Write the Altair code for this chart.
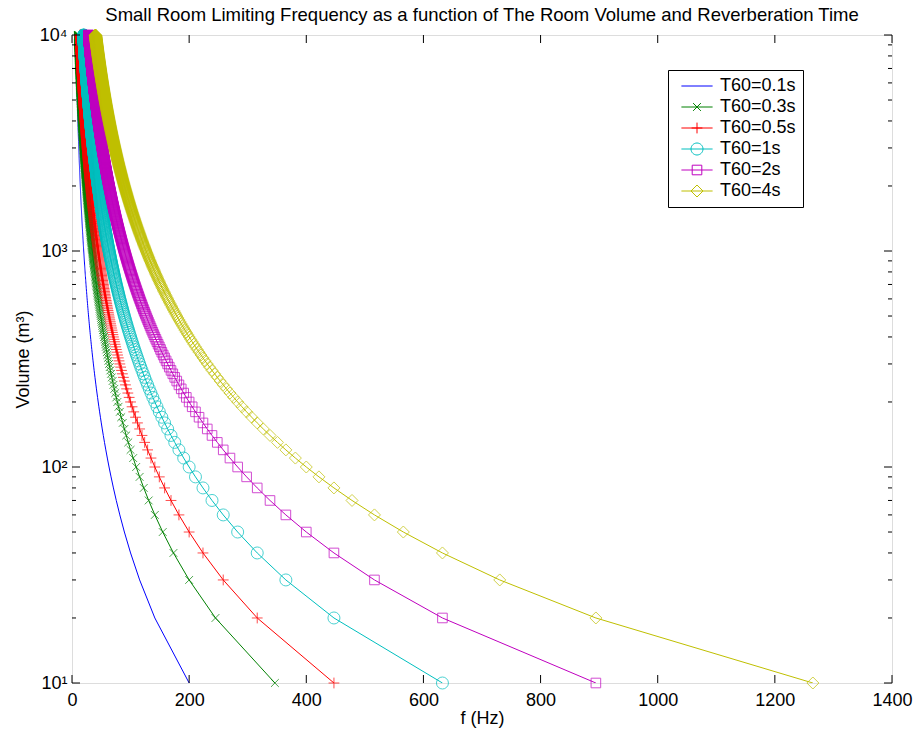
import altair as alt
import pandas as pd

# ---- data ----
series_names = ["T60=0.1s", "T60=0.3s", "T60=0.5s", "T60=1s", "T60=2s", "T60=4s"]
t60_values = [0.1, 0.3, 0.5, 1.0, 2.0, 4.0]
series_colors = ["#0000ff", "#008000", "#ff0000", "#00bfbf", "#bf00bf", "#bfbf00"]
volumes = list(range(10, 10001, 10))          # room volume grid, m^3
x_ticks = [0, 200, 400, 600, 800, 1000, 1200, 1400]
y_major = [10, 100, 1000, 10000]
y_minor = [20, 30, 40, 50, 60, 70, 80, 90,
           200, 300, 400, 500, 600, 700, 800, 900,
           2000, 3000, 4000, 5000, 6000, 7000, 8000, 9000]

# Schroeder (small-room limiting) frequency: f = 2000 * sqrt(T60 / V)
rows = []
for name, t in zip(series_names, t60_values):
    for v in volumes:
        rows.append({"series": name, "V": v, "f": 2000.0 * (t / v) ** 0.5})
df = pd.DataFrame(rows)

# marker glyphs (unit square paths), None = no marker
marker_paths = [None,
                "M-0.65,-0.65L0.65,0.65M-0.65,0.65L0.65,-0.65",
                "M-0.9,0L0.9,0M0,-0.9L0,0.9",
                "circle",
                "M-0.8,-0.8L0.8,-0.8L0.8,0.8L-0.8,0.8Z",
                "M0,-1L1,0L0,1L-1,0Z"]
legend_line = "M-2.6,0L2.6,0"
legend_paths = [legend_line]
for p in marker_paths[1:]:
    if p == "circle":
        p = "M1,0A1,1,0,1,1,-1,0A1,1,0,1,1,1,0Z"
    legend_paths.append(legend_line + p)

FONT = "Liberation Sans"
FS = 18
W, H = 820, 648

xscale = alt.Scale(domain=[0, 1400], nice=False, zero=False)
yscale = alt.Scale(type="log", domain=[10, 10000], nice=False)

xaxis = alt.Axis(values=x_ticks, ticks=False, domain=False, grid=False, format="d",
                 labelFont=FONT, labelFontSize=FS, labelPadding=8,
                 labelFlush=False, labelOverlap=False, labelColor="black",
                 title="f (Hz)", titleFont=FONT, titleFontSize=FS,
                 titleFontWeight="normal", titlePadding=0, titleColor="black")
yaxis = alt.Axis(values=y_major, ticks=False, domain=False, grid=False,
                 labelExpr="'10' + ['⁰','¹','²','³','⁴'][round(log(datum.value)/LN10)]",
                 labelFont=FONT, labelFontSize=FS, labelPadding=5,
                 labelFlush=False, labelOverlap=False, labelColor="black",
                 title="Volume (m³)", titleFont=FONT, titleFontSize=FS,
                 titleFontWeight="normal", titlePadding=7, titleColor="black")

base = alt.Chart(df)
layers = []
for i, name in enumerate(series_names):
    sel = base.transform_filter(alt.datum.series == name)
    enc = dict(x=alt.X("f:Q", scale=xscale, axis=xaxis),
               y=alt.Y("V:Q", scale=yscale, axis=yaxis))
    layers.append(sel.mark_line(strokeWidth=1, color=series_colors[i], clip=True)
                  .encode(order=alt.Order("V:Q"), **enc))
    if marker_paths[i] is not None:
        layers.append(sel.mark_point(filled=False, size=144, strokeWidth=1,
                                     color=series_colors[i])
                      .encode(shape=alt.value(marker_paths[i]), **enc))

# tick marks (inward, mirrored on all sides)
xt = pd.DataFrame({"t": x_ticks})
ymaj = pd.DataFrame({"t": y_major})
ymin = pd.DataFrame({"t": y_minor})
tick_style = dict(color="black", strokeWidth=1)
layers += [
    alt.Chart(xt).mark_rule(**tick_style).encode(x=alt.X("t:Q", scale=xscale), y=alt.value(H), y2=alt.value(H - 8)),
    alt.Chart(xt).mark_rule(**tick_style).encode(x=alt.X("t:Q", scale=xscale), y=alt.value(0), y2=alt.value(8)),
    alt.Chart(ymaj).mark_rule(**tick_style).encode(y=alt.Y("t:Q", scale=yscale), x=alt.value(0), x2=alt.value(8)),
    alt.Chart(ymaj).mark_rule(**tick_style).encode(y=alt.Y("t:Q", scale=yscale), x=alt.value(W), x2=alt.value(W - 8)),
    alt.Chart(ymin).mark_rule(**tick_style).encode(y=alt.Y("t:Q", scale=yscale), x=alt.value(0), x2=alt.value(4)),
    alt.Chart(ymin).mark_rule(**tick_style).encode(y=alt.Y("t:Q", scale=yscale), x=alt.value(W), x2=alt.value(W - 4)),
]

# legend-only layer (invisible points)
leg = dict(orient="none", legendX=596, legendY=35, title=None,
           strokeColor="black", fillColor="white", padding=7,
           labelFont=FONT, labelFontSize=FS, labelColor="black",
           symbolSize=144, symbolStrokeWidth=1, symbolOffset=13,
           labelOffset=14, rowPadding=3, cornerRadius=0)
legend_layer = base.transform_filter(alt.datum.V == 10).mark_point(
    filled=False, size=144, opacity=0).encode(
    x=alt.X("f:Q", scale=xscale, axis=xaxis),
    y=alt.Y("V:Q", scale=yscale, axis=yaxis),
    color=alt.Color("series:N", scale=alt.Scale(domain=series_names, range=series_colors),
                    legend=alt.Legend(**leg)),
    shape=alt.Shape("series:N", scale=alt.Scale(domain=series_names, range=legend_paths),
                    legend=alt.Legend(**leg)),
)
layers.append(legend_layer)

chart = alt.layer(*layers).properties(
    width=W, height=H,
    title=alt.TitleParams(
        "Small Room Limiting Frequency as a function of The Room Volume and Reverberation Time",
        font=FONT, fontSize=18.5, fontWeight="normal", color="black",
        anchor="middle", frame="group", offset=5, dy=18, baseline="alphabetic"),
    autosize=alt.AutoSizeParams(type="none"),
    padding={"left": 72, "top": 35, "right": 25, "bottom": 51},
).configure_view(stroke="black", strokeWidth=1).configure(background="white")

chart.save("out.html", embed_options={"renderer": "svg", "actions": False})
